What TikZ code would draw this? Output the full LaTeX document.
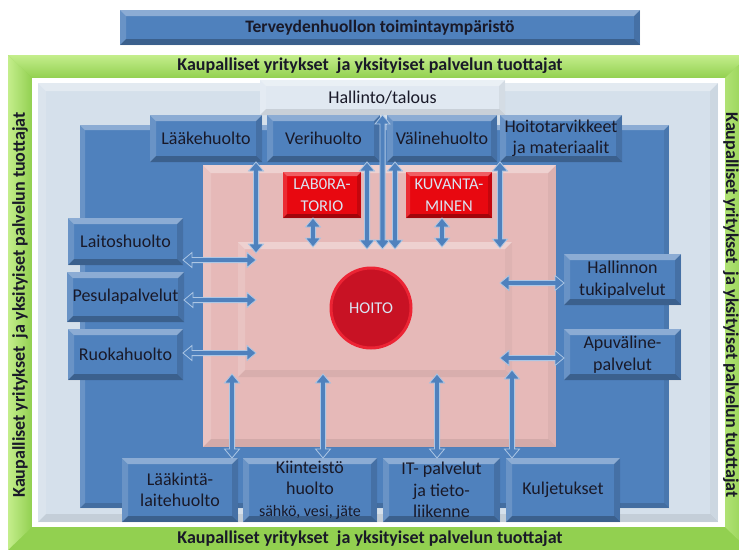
\documentclass[tikz,border=0pt]{standalone}
\usepackage{fontspec}
\setmainfont{Carlito}
\usetikzlibrary{positioning, calc}

\definecolor{boxblue}{RGB}{79,129,189}
\definecolor{arrowedge}{RGB}{172,198,228}
\definecolor{panelgray}{RGB}{213,224,235}
\definecolor{adminwhite}{RGB}{224,232,241}
\definecolor{framegreen}{RGB}{146,208,80}
\definecolor{lightgreen}{RGB}{196,238,140}
\definecolor{corepink}{RGB}{230,185,184}
\definecolor{labred}{RGB}{232,8,16}
\definecolor{labtext}{RGB}{218,228,242}
\definecolor{hoitored}{RGB}{200,18,36}
\definecolor{hoitorim}{RGB}{236,36,52}
\definecolor{boxtext}{RGB}{25,25,40}

\tikzset{
  bevel/.style 2 args={path picture={
      \path (path picture bounding box.north west) coordinate (bvA)
            (path picture bounding box.north east) coordinate (bvB)
            (path picture bounding box.south east) coordinate (bvC)
            (path picture bounding box.south west) coordinate (bvD);
      \path ([xshift=#1,yshift=-#1]bvA) coordinate (bva)
            ([xshift=-#1,yshift=-#1]bvB) coordinate (bvb)
            ([xshift=-#1,yshift=#1]bvC) coordinate (bvc)
            ([xshift=#1,yshift=#1]bvD) coordinate (bvd);
      \fill[white,opacity=.35] (bvA) -- (bvB) -- (bvb) -- (bva) -- cycle;
      \fill[white,opacity=.15] (bvA) -- (bva) -- (bvd) -- (bvD) -- cycle;
      \fill[black,opacity=#2/2] (bvB) -- (bvC) -- (bvc) -- (bvb) -- cycle;
      \fill[black,opacity=#2] (bvD) -- (bvd) -- (bvc) -- (bvC) -- cycle;
    }},
  panel/.style={rectangle, inner sep=0pt, outer sep=0pt, anchor=north west},
  box/.style={rectangle, fill=boxblue, text=boxtext, align=center,
    inner sep=0pt, outer sep=0pt, bevel={6pt}{.25},
    font=\fontsize{18}{21.5}\selectfont},
  labbox/.style={rectangle, fill=labred, text=labtext, align=center,
    inner sep=0pt, outer sep=0pt, anchor=north west, bevel={4pt}{.3},
    font=\fontsize{16.5}{21.5}\selectfont},
  greentext/.style={text=boxtext, font=\fontsize{18}{21.5}\selectfont\bfseries},
  blockarrow/.style={fill=boxblue, draw=arrowedge, line width=0.8pt, line join=miter},
}

% two-headed block arrow: start, end, extra length past the end
\newcommand{\biarrow}[3]{%
  \coordinate (baS) at #1;
  \coordinate (baT) at #2;
  \coordinate (baE) at ($(baT)!-#3!(baS)$);
  \coordinate (baA) at ($(baS)!9pt!(baE)$);
  \coordinate (baB) at ($(baE)!9pt!(baS)$);
  \filldraw[blockarrow] (baS)
    -- ($(baA)!7.5pt!90:(baE)$) -- ($(baA)!2.6pt!90:(baE)$)
    -- ($(baB)!2.6pt!-90:(baS)$) -- ($(baB)!7.5pt!-90:(baS)$)
    -- (baE)
    -- ($(baB)!7.5pt!90:(baS)$) -- ($(baB)!2.6pt!90:(baS)$)
    -- ($(baA)!2.6pt!-90:(baE)$) -- ($(baA)!7.5pt!-90:(baE)$)
    -- cycle;
}

\begin{document}
\begin{tikzpicture}[x=1pt, y=-1pt]
  \useasboundingbox (0,0) rectangle (739,549);

  % Title
  \node (title) [box,
    anchor=north west,
    minimum width=520pt,
    minimum height=35pt,
    font=\fontsize{17.5}{21}\selectfont\bfseries] at (120,10) {Terveydenhuollon toimintaympäristö};

  % Green frame
  \fill[framegreen] (8,55) rectangle (749,550);
  \shade[top color=lightgreen, bottom color=framegreen] (8,55) -- (749,55) -- (725,78) -- (32,78) -- cycle;
  \shade[left color=lightgreen, right color=framegreen] (8,55) -- (32,78) -- (32,527) -- (8,550) -- cycle;
  \shade[left color=lightgreen!60!framegreen, right color=framegreen] (725,78) -- (749,55) -- (749,550) -- (725,527) -- cycle;
  \fill[white] (32,78) rectangle (725,527);
  \node (ktop) [greentext] at (370,66) {Kaupalliset yritykset\ \ ja yksityiset palvelun tuottajat};
  \node (kbot) [greentext] at (370,539) {Kaupalliset yritykset\ \ ja yksityiset palvelun tuottajat};
  \node (kleft) [greentext, rotate=90] at (20,305) {Kaupalliset yritykset\ \ ja yksityiset palvelun tuottajat};
  \node (kright) [greentext, rotate=-90] at (731,305) {Kaupalliset yritykset\ \ ja yksityiset palvelun tuottajat};

  % Panels
  \node (back) [panel, fill=panelgray, bevel={8pt}{.08},
    minimum width=680pt, minimum height=439pt] at (38,83) {};
  \node (service) [panel, fill=boxblue, bevel={5pt}{.15},
    minimum width=589pt, minimum height=383pt] at (80,125) {};
  \node (core) [panel, fill=corepink, bevel={8pt}{.08},
    minimum width=353pt, minimum height=282pt] at (203,165) {};
  \node (inner) [panel, fill=corepink, bevel={7pt}{.06},
    minimum width=274pt, minimum height=135pt] at (238,242) {};

  % Administration
  \node (ha) [box,
    anchor=north west,
    fill=adminwhite,
    bevel={6pt}{.1},
    minimum width=245pt,
    minimum height=35pt] at (260,80) {Hallinto/talous};

  % Top row
  \node (lh) [box,
    anchor=north west,
    minimum width=112pt,
    minimum height=47pt] at (150,115) {Lääkehuolto};
  \node (vh) [box,
    right=5pt of lh,
    minimum width=113pt,
    minimum height=47pt] {Verihuolto};
  \node (vl) [box,
    right=7pt of vh,
    minimum width=110pt,
    minimum height=47pt] {Välinehuolto};
  \node (ht) [box,
    right=3pt of vl,
    minimum width=122pt,
    minimum height=47pt] {Hoitotarvikkeet\\ja materiaalit};

  % Left column
  \node (lt) [box,
    anchor=north west,
    minimum width=115pt,
    minimum height=47pt] at (68,218) {Laitoshuolto};
  \node (pp) [box,
    below=7pt of lt,
    minimum width=117pt,
    minimum height=50pt] {Pesulapalvelut};
  \node (rk) [box,
    below=7pt of pp,
    minimum width=115pt,
    minimum height=51pt] {Ruokahuolto};

  % Right column
  \node (hk) [box,
    anchor=north west,
    minimum width=117pt,
    minimum height=51pt] at (564,254) {Hallinnon\\tukipalvelut};
  \node (ap) [box,
    below=24pt of hk,
    minimum width=117pt,
    minimum height=51pt] {Apuväline-\\palvelut};

  % Bottom row
  \node (lk) [box,
    anchor=north west,
    minimum width=116pt,
    minimum height=64pt] at (122,458) {Lääkintä-\\laitehuolto};
  \node (kh) [box,
    right=5pt of lk,
    minimum width=134pt,
    minimum height=64pt] {Kiinteistö\\huolto\\{\fontsize{16}{19}\selectfont sähkö, vesi, jäte}};
  \node (it) [box,
    right=6pt of kh,
    minimum width=117pt,
    minimum height=64pt] {IT- palvelut\\ja tieto-\\liikenne};
  \node (kj) [box,
    right=6pt of it,
    minimum width=114pt,
    minimum height=64pt] {Kuljetukset};

  % Care core
  \node (labo) [labbox,
    minimum width=78pt,
    minimum height=46pt] at (283,172) {LAB0RA-\\TORIO};
  \node (kuva) [labbox,
    minimum width=86pt,
    minimum height=46pt] at (406,172) {KUVANTA-\\MINEN};
  \node (hoito) [circle,
    fill=hoitored,
    draw=hoitorim,
    line width=3pt,
    minimum size=80pt,
    text=labtext,
    font=\fontsize{16.5}{20}\selectfont] at (371,308) {HOITO};

  % Arrows
  \biarrow{([xshift=50pt]lh.south)}{([xshift=50pt]lh.south |- inner.north)}{11pt}
  \biarrow{([xshift=43.5pt]vh.south)}{([xshift=43.5pt]vh.south |- inner.north)}{7pt}
  \biarrow{(ha.south)}{(ha.south |- inner.north)}{7pt}
  \biarrow{([xshift=-47pt]vl.south)}{([xshift=-47pt]vl.south |- inner.north)}{7pt}
  \biarrow{([xshift=-61pt]ht.south)}{([xshift=-61pt]ht.south |- inner.north)}{6pt}
  \biarrow{([xshift=-9pt]labo.south)}{([xshift=-9pt]labo.south |- inner.north)}{5pt}
  \biarrow{([xshift=-7pt]kuva.south)}{([xshift=-7pt]kuva.south |- inner.north)}{5pt}
  \biarrow{([yshift=-18.5pt]lt.east)}{([yshift=-18.5pt]lt.east -| inner.west)}{18pt}
  \biarrow{([yshift=-3pt]pp.east)}{([yshift=-3pt]pp.east -| inner.west)}{18pt}
  \biarrow{([yshift=1.5pt]rk.east)}{([yshift=1.5pt]rk.east -| inner.west)}{18pt}
  \biarrow{([yshift=-3.5pt]hk.west)}{([yshift=-3.5pt]hk.west -| inner.east)}{12pt}
  \biarrow{([yshift=-3.5pt]ap.west)}{([yshift=-3.5pt]ap.west -| inner.east)}{12pt}
  \biarrow{([xshift=52pt]lk.north)}{([xshift=52pt]lk.north |- inner.south)}{3pt}
  \biarrow{([xshift=13pt]kh.north)}{([xshift=13pt]kh.north |- inner.south)}{3pt}
  \biarrow{([xshift=-4.5pt]it.north)}{([xshift=-4.5pt]it.north |- inner.south)}{3pt}
  \biarrow{([xshift=-51pt]kj.north)}{([xshift=-51pt]kj.north |- inner.south)}{7pt}
\end{tikzpicture}
\end{document}
